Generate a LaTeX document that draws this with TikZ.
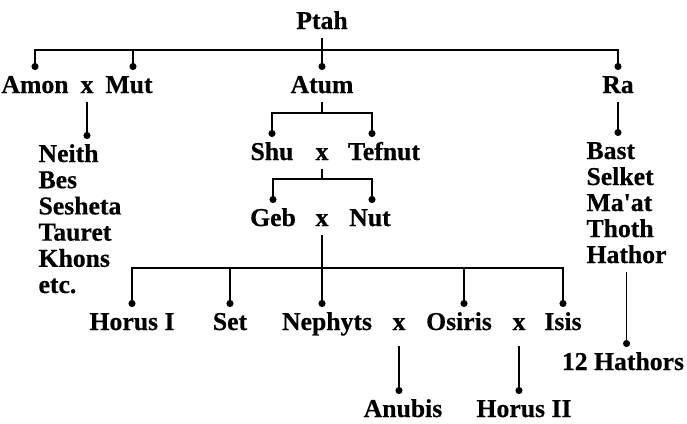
\documentclass[tikz,border=0pt]{standalone}
\usepackage{fontspec}
\setmainfont{Liberation Serif}[BoldFeatures={FakeBold=0.5}]
\usetikzlibrary{arrows.meta}
\newcommand{\godfont}{\bfseries\fontsize{25.7}{26.2}\selectfont}

\begin{document}
\begin{tikzpicture}[x=1pt, y=-1pt, line width=1.1pt,
    god/.style={font=\godfont, inner sep=0pt, text height=17pt, text depth=3pt, outer ysep=6pt, anchor=base},
    kid/.style={-{Circle[length=7pt]}},
    both/.style={{Circle[length=7pt]}-{Circle[length=7pt]}}]
  \useasboundingbox (0,0) rectangle (687,423);

  % Ptah and his children
  \node[god] (ptah) at (322,29) {Ptah};
  \node[god] (amon) at (35,93) {Amon};
  \node[god] (amonx) at (87,93) {x};
  \node[god] (mut) at (129,93) {Mut};
  \node[god] (atum) at (322,93) {Atum};
  \node[god] (ra) at (618,93) {Ra};
  \coordinate (topbar) at (322,50);
  \coordinate (muttop) at ([xshift=4pt]mut.north);
  \draw[both] (amon.north) |- (topbar) -| (ra.north);
  \draw[kid] (muttop |- topbar) -- (muttop);
  \draw[kid] (ptah.south) -- (atum.north);

  % Amon x Mut
  \foreach \name [count=\i from 0] in {Neith, Bes, Sesheta, Tauret, Khons, etc.} {
    \node[god, anchor=base west] (amonkid\i) at (38, {162+26.2*\i}) {\name};
  }
  \draw[kid] (amonx.south) -- (amonx.south |- amonkid0.north);

  % Atum
  \node[god] (shu) at (272,160) {Shu};
  \node[god] (shux) at (322,160) {x};
  \node[god] (tefnut) at (384,160) {Tefnut};
  \coordinate (atumbar) at (322,113);
  \coordinate (tefnuttop) at ([xshift=-12pt]tefnut.north);
  \draw (atum.south) -- (atumbar);
  \draw[both] (shu.north) |- (atumbar) -| (tefnuttop);

  % Shu x Tefnut
  \node[god] (geb) at (273,226) {Geb};
  \node[god] (gebx) at (322,226) {x};
  \node[god] (nut) at (370,226) {Nut};
  \coordinate (shubar) at (322,179);
  \coordinate (nuttop) at ([xshift=2pt]nut.north);
  \draw (shux.south) -- (shubar);
  \draw[both] (geb.north) |- (shubar) -| (nuttop);

  % Geb x Nut
  \node[god] (horusi) at (132,330) {Horus I};
  \node[god] (set) at (230,330) {Set};
  \node[god] (nephyts) at (327,330) {Nephyts};
  \node[god] (nephx) at (399,330) {x};
  \node[god] (osiris) at (459,330) {Osiris};
  \node[god] (osirx) at (519,330) {x};
  \node[god] (isis) at (563,330) {Isis};
  \coordinate (gebbar) at (322,268);
  \coordinate (osiristop) at ([xshift=5pt]osiris.north);
  \draw[both] (horusi.north) |- (gebbar) -| (isis.north);
  \draw[kid] (gebx.south) -- (gebx.south |- nephyts.north);
  \draw[kid] (set.north |- gebbar) -- (set.north);
  \draw[kid] (osiristop |- gebbar) -- (osiristop);

  % Grandchildren
  \node[god] (anubis) at (403,417) {Anubis};
  \node[god] (horusii) at (524,417) {Horus II};
  \draw[kid] ([yshift=-7pt]nephx.south) -- (nephx.south |- anubis.north);
  \draw[kid] ([yshift=-7pt]osirx.south) -- (osirx.south |- horusii.north);

  % Ra
  \foreach \name [count=\i from 0] in {Bast, Selket, Ma\textquotesingle at, Thoth, Hathor} {
    \node[god, anchor=base west] (rakid\i) at (586, {159+26*\i}) {\name};
  }
  \draw[kid] (ra.south) -- (ra.south |- rakid0.north);
  \node[god] (hathors) at (623,370) {12 Hathors};
  \draw[kid] (rakid4.south) -- (rakid4.south |- hathors.north);
\end{tikzpicture}
\end{document}
